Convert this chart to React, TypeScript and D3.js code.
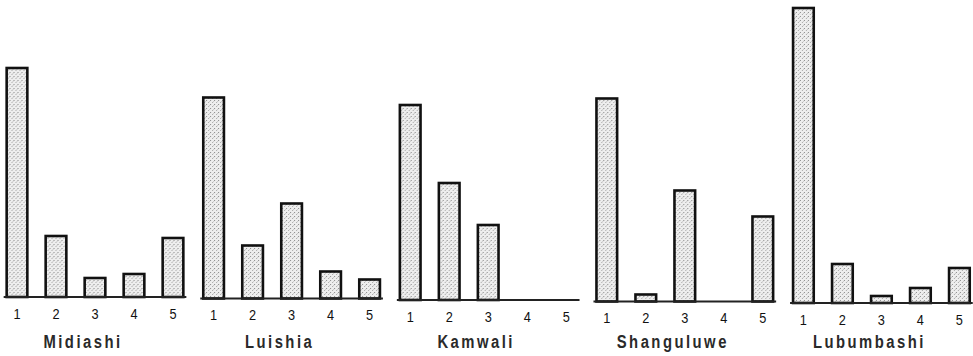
import React from "react";
import * as d3 from "d3";

const sites = ["Midiashi", "Luishia", "Kamwali", "Shanguluwe", "Lubumbashi"];
const classes = ["1", "2", "3", "4", "5"];

// share per class (%)
const midiashi = [57.5, 15.5, 5, 6, 15];
const luishia = [50.5, 13.5, 24, 7, 5];
const kamwali = [49, 29.5, 19, 0, 0];
const shanguluwe = [51, 2, 28, 0, 21.5];
const lubumbashi = [74, 10, 2, 4, 9];

const series = [midiashi, luishia, kamwali, shanguluwe, lubumbashi];

const width = 973;
const height = 356;

export default function App() {
  let panelScale = d3.scaleBand().domain(sites).range([-2.5, 980.5]);
  let xScale = d3
    .scaleBand()
    .domain(classes)
    .range([0, 195])
    .paddingInner(0.47)
    .paddingOuter(0.235);
  let yScale = d3.scaleLinear().domain([0, 75]).range([0, 300]);

  let font = "'Liberation Sans', Arial, sans-serif";

  let panels = sites.map((site, i) => {
    let x0 = panelScale(site) as number;
    let base = 297 + i * 1.5;
    let values = series[i];
    let first = xScale("1") as number;
    let last = (xScale("5") as number) + xScale.bandwidth();
    let mid = (first + last) / 2;

    let bars = values.map((v, j) => {
      if (v <= 0) return null;
      let h = yScale(v);
      return (
        <rect
          key={j}
          x={xScale(classes[j])}
          y={base - h + 1}
          width={xScale.bandwidth()}
          height={h - 1}
          fill="url(#stipple)"
          stroke="#111"
          strokeWidth={2.6}
        />
      );
    });

    let ticks = classes.map((c) => (
      <g
        key={c}
        transform={`translate(${(xScale(c) as number) + xScale.bandwidth() / 2},${base + 21.5}) scale(0.85,1)`}
      >
        <text textAnchor="middle" fontFamily={font} fontSize={15} fill="#111">
          {c}
        </text>
      </g>
    ));

    return (
      <g key={site} transform={`translate(${x0},0)`}>
        {bars}
        <line x1={first - 3} x2={last + 3} y1={base} y2={base} stroke="#222" strokeWidth={2} />
        {ticks}
        <g transform={`translate(${mid - 12},348) scale(0.78,1)`}>
          <text
            textAnchor="middle"
            fontFamily={font}
            fontWeight="bold"
            fontSize={19}
            letterSpacing={3.2}
            fill="#2a2a2a"
          >
            {site}
          </text>
        </g>
      </g>
    );
  });

  return (
    <svg
      width={width}
      height={height}
      style={{ position: "absolute", left: 0, top: 0, background: "#fff" }}
    >
      <defs>
        <pattern id="stipple" width={4} height={4} patternUnits="userSpaceOnUse">
          <rect width={4} height={4} fill="#eeeeee" />
          <rect x={0} y={0} width={1} height={1} fill="#8a8a8a" />
          <rect x={2} y={2} width={1} height={1} fill="#aaaaaa" />
          <rect x={3} y={1} width={1} height={1} fill="#c8c8c8" />
        </pattern>
      </defs>
      {panels}
    </svg>
  );
}
